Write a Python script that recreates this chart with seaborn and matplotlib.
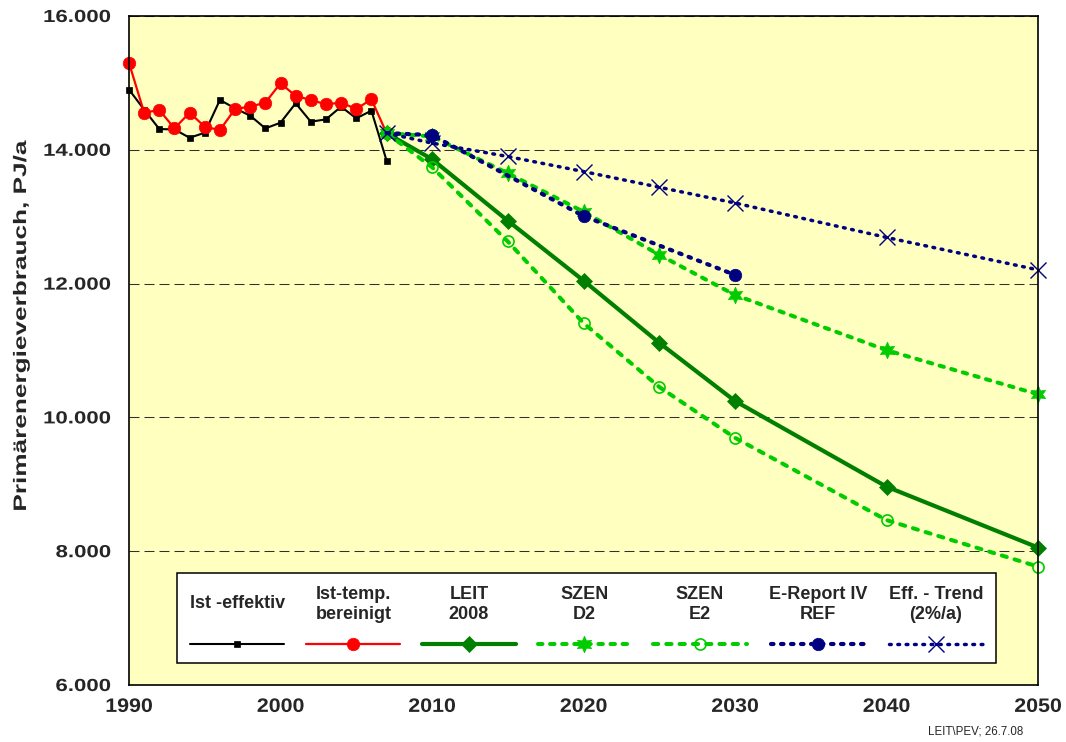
import matplotlib
matplotlib.use("Agg")
import matplotlib.pyplot as plt
import seaborn as sns
import pandas as pd
from matplotlib.offsetbox import VPacker
from matplotlib.patheffects import AbstractPathEffect
from matplotlib.ticker import MultipleLocator
from matplotlib.transforms import Affine2D

# ---- data (PJ/a) ----
years_ist = list(range(1990, 2008))
ist_effektiv = [14900, 14600, 14310, 14305, 14180, 14255, 14745, 14620, 14510,
                14320, 14405, 14695, 14420, 14455, 14645, 14470, 14585, 13840]
ist_bereinigt = [15300, 14555, 14595, 14320, 14555, 14345, 14295, 14610, 14645,
                 14705, 14995, 14805, 14745, 14680, 14705, 14610, 14755, 14250]

proj_years = [2007, 2010, 2015, 2020, 2025, 2030, 2040, 2050]
leit_2008 = [14250, 13860, 12940, 12045, 11115, 10245, 8965, 8055]
szen_d2 = [14250, 14200, 13650, 13075, 12430, 11830, 11005, 10345]
szen_e2 = [14250, 13740, 12630, 11410, 10455, 9695, 8465, 7770]
eff_trend = [14250, 14100, 13900, 13675, 13440, 13205, 12690, 12205]

ereport_years = [2007, 2010, 2020, 2030]
ereport_ref = [14250, 14220, 13010, 12130]

series_labels = ["Ist -effektiv", "Ist-temp.\nbereinigt", "LEIT\n2008", "SZEN\nD2",
                 "SZEN\nE2", "E-Report IV\nREF", "Eff. - Trend\n(2%/a)"]

x_ticks = [1990, 2000, 2010, 2020, 2030, 2040, 2050]
x_tick_labels = ["1990", "2000", "2010", "2020", "2030", "2040", "2050"]
y_ticks = [6000, 8000, 10000, 12000, 14000, 16000]
y_tick_labels = ["6.000", "8.000", "10.000", "12.000", "14.000", "16.000"]

y_label = "Primärenergieverbrauch, PJ/a"
footnote = "LEIT\\PEV; 26.7.08"


class WideText(AbstractPathEffect):
    """Stretch glyph outlines along the text direction about an anchor."""

    def __init__(self, factor, anchor="center"):
        super().__init__()
        self.factor = factor
        self.anchor = anchor

    def draw_path(self, renderer, gc, tpath, affine, rgbFace=None):
        ext = tpath.get_extents()
        x0 = {"left": ext.x0, "center": 0.5 * (ext.x0 + ext.x1),
              "right": ext.x1}[self.anchor]
        stretch = Affine2D().translate(-x0, 0).scale(self.factor, 1).translate(x0, 0)
        renderer.draw_path(gc, tpath, stretch + affine, rgbFace)


sns.set_style("white")
plt.rcParams["font.family"] = ["Liberation Sans", "DejaVu Sans"]
plt.rcParams["font.weight"] = "bold"

fig = plt.figure(figsize=(10.66, 7.42), dpi=100)
ax = fig.add_axes([129 / 1066, 1 - 685 / 742, 909 / 1066, 669 / 742])
ax.set_facecolor("#FFFFC0")

BLACK, RED = "#000000", "#FF0000"
DKGREEN, LTGREEN, NAVY = "#007F00", "#00CC00", "#000080"

common = dict(ax=ax, errorbar=None, clip_on=False, legend=False)

ist_df = pd.DataFrame({"Jahr": years_ist, "eff": ist_effektiv, "ber": ist_bereinigt})
proj_df = pd.DataFrame({"Jahr": proj_years, "leit": leit_2008, "d2": szen_d2,
                        "e2": szen_e2, "eff": eff_trend})
rep_df = pd.DataFrame({"Jahr": ereport_years, "ref": ereport_ref})

handles = []

sns.lineplot(data=ist_df, x="Jahr", y="eff", color=BLACK, linewidth=1.5,
             marker="s", markersize=4.5, markeredgecolor=BLACK,
             markeredgewidth=0.5, zorder=3, **common)
handles.append(ax.lines[-1])

sns.lineplot(data=ist_df, x="Jahr", y="ber", color=RED, linewidth=1.6,
             marker="o", markersize=9, markeredgecolor=RED,
             markeredgewidth=0.5, zorder=3, **common)
handles.append(ax.lines[-1])

sns.lineplot(data=proj_df, x="Jahr", y="leit", color=DKGREEN, linewidth=3,
             marker="D", markersize=7.8, markeredgecolor=DKGREEN,
             markeredgewidth=0.5, zorder=4, **common)
handles.append(ax.lines[-1])

sns.lineplot(data=proj_df, x="Jahr", y="d2", color=LTGREEN, linewidth=2.9,
             linestyle=(0, (1.1, 1.9)), dash_capstyle="round",
             marker=(6, 1, 0), markersize=12, markeredgecolor=LTGREEN,
             markeredgewidth=0.5, zorder=4, **common)
handles.append(ax.lines[-1])

sns.lineplot(data=proj_df, x="Jahr", y="e2", color=LTGREEN, linewidth=2.9,
             linestyle=(0, (1.3, 2.0)), dash_capstyle="round",
             marker="o", markersize=8, markerfacecolor="none",
             markeredgecolor=LTGREEN, markeredgewidth=1.2, zorder=4, **common)
handles.append(ax.lines[-1])

sns.lineplot(data=rep_df, x="Jahr", y="ref", color=NAVY, linewidth=3.0,
             linestyle=(0, (0.6, 1.8)), dash_capstyle="round",
             marker="o", markersize=9, markeredgecolor=NAVY,
             markeredgewidth=0.5, markevery=[1, 2, 3], zorder=5, **common)
handles.append(ax.lines[-1])

sns.lineplot(data=proj_df, x="Jahr", y="eff", color=NAVY, linewidth=2.5,
             linestyle=(0, (0.5, 1.9)), dash_capstyle="round",
             marker="x", markersize=11, markeredgecolor=NAVY,
             markeredgewidth=1.0, zorder=5, **common)
handles.append(ax.lines[-1])

# ---- axes, ticks, grid ----
ax.set_xlim(1990, 2050)
ax.set_ylim(6000, 16000)
ax.set_xlabel("")
ax.set_xticks(x_ticks, labels=x_tick_labels, fontsize=14, fontweight="bold")
ax.set_yticks(y_ticks, labels=y_tick_labels, fontsize=12.6, fontweight="bold")
ax.xaxis.set_minor_locator(MultipleLocator(1))
ax.yaxis.set_minor_locator(MultipleLocator(500))
ax.tick_params(axis="both", which="both", direction="in", color="black",
               width=0.8, top=False, right=False)
ax.tick_params(axis="both", which="major", length=10)
ax.tick_params(axis="both", which="minor", length=5)
ax.tick_params(axis="x", which="major", pad=10)
ax.tick_params(axis="y", which="major", pad=13)
for lbl in ax.get_yticklabels():
    lbl.set_path_effects([WideText(1.27, "right")])
for lbl in ax.get_xticklabels():
    lbl.set_path_effects([WideText(1.1, "center")])

ax.yaxis.grid(True, which="major", color="#303030", linewidth=0.75,
              linestyle=(0, (9.6, 4.8)))
ax.xaxis.grid(False)
ax.set_axisbelow(True)

for side in ["left", "bottom", "top", "right"]:
    ax.spines[side].set_visible(True)
    ax.spines[side].set_color("black")
    ax.spines[side].set_linewidth(1.2)
    ax.spines[side].set_zorder(6)

ylab = ax.set_ylabel(y_label, fontsize=13, fontweight="bold")
ax.yaxis.set_label_coords((30 - 129) / 909, (685 - 326) / 669)
ylab.set_path_effects([WideText(1.45, "center")])

# ---- legend: label on top, line sample below ----
leg = ax.legend(handles, series_labels, loc="lower left",
                bbox_to_anchor=(48 / 909, 22 / 669), ncol=7, frameon=True,
                fancybox=False, edgecolor="black", facecolor="white",
                framealpha=1, borderaxespad=0, borderpad=0.7,
                columnspacing=1.2, handlelength=5.2, handletextpad=0,
                prop=dict(family="Liberation Sans", weight="bold", size=13))
leg.get_frame().set_linewidth(1.1)
for t in leg.get_texts():
    t.set_horizontalalignment("center")
    t.set_linespacing(1.25)

for col in leg._legend_handle_box.get_children():
    stacked = []
    for item in col.get_children():
        handle_box, text_box = item.get_children()
        n_lines = text_box._text.get_text().count("\n") + 1
        sep = 10.6 + (2 - n_lines) * 0.5 * 1.25 * 13
        stacked.append(VPacker(children=[text_box, handle_box], align="center",
                               pad=0, sep=sep))
    col._children = stacked
leg._legend_handle_box.align = "bottom"

fig.text(976 / 1066, 1 - 732 / 742, footnote, ha="center", va="center",
         fontsize=8.3, fontweight="normal", family="Liberation Sans")

fig.savefig("out.png", dpi=100, facecolor="white")
